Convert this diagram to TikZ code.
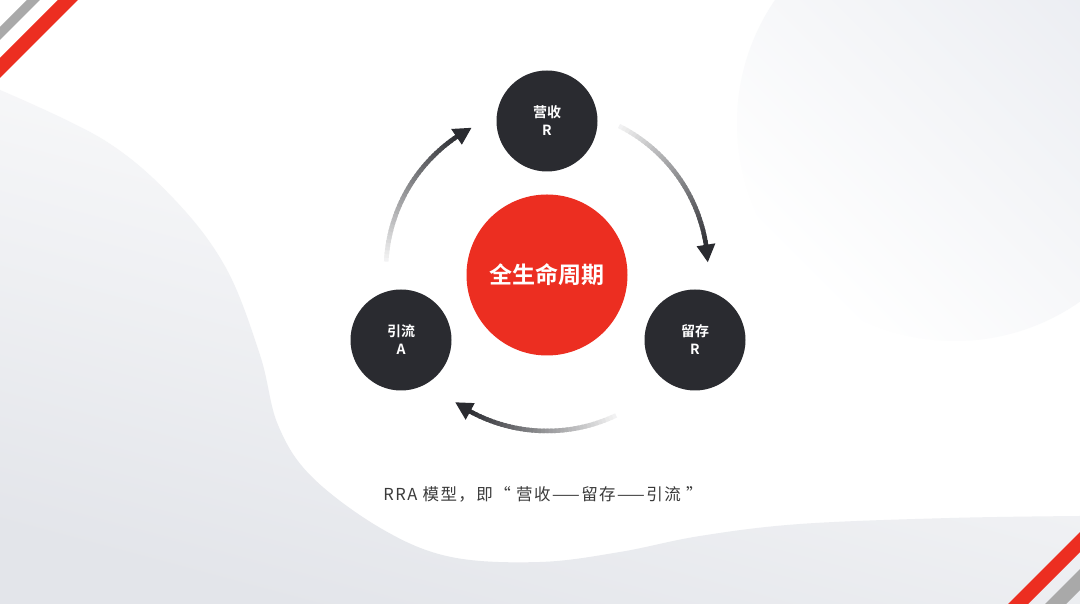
\documentclass[tikz,border=0pt]{standalone}
\usepackage{fontspec}
\newfontfamily\cjk{Noto Sans CJK SC}[BoldFont={Noto Sans CJK SC Bold}]
\newfontfamily\cjkcap{Noto Sans CJK SC}[LetterSpace=9]
\usetikzlibrary{calc}
\definecolor{redc}{HTML}{EC2E21}
\definecolor{darkc}{HTML}{2A2B30}
\definecolor{stripegray}{HTML}{A9A9A9}
\definecolor{bgdark}{HTML}{E3E5EA}
\definecolor{bgmid}{HTML}{F4F5F7}
\definecolor{bgcirc}{HTML}{EAECF1}
\definecolor{capc}{HTML}{3A3A3A}
\newcommand\gradarc[2]{%
  \foreach \i in {0,...,39}{%
    \pgfmathsetmacro\ga{#1+((#2+5)-#1)*\i/40}%
    \pgfmathsetmacro\gb{#1+((#2+5)-#1)*min(\i+1.6,40)/40}%
    \pgfmathtruncatemacro\gp{6+94*\i/39}%
    \draw[arcseg, draw=darkc!\gp!white] ($(O)+(\ga:161)$) arc[start angle=\ga, end angle=\gb, radius=161];
  }%
  \fill[darkc] ($(O)+(#2:161)$) -- ($(O)+({#2+6.2}:170.5)$) -- ($(O)+({#2+6.2}:151.5)$) -- cycle;
}
\begin{document}
\begin{tikzpicture}[x=1pt,y=1pt,
  darknode/.style={circle, fill=darkc, minimum size=101pt, inner sep=0pt, text=white, align=center,
     font=\cjk\bfseries\fontsize{14}{18}\selectfont},
  rednode/.style={circle, fill=redc, minimum size=161pt, inner sep=0pt, text=white,
     font=\cjk\bfseries\fontsize{23}{26}\selectfont},
  arcseg/.style={line width=4.5pt},
  captext/.style={text=capc, font=\cjkcap\fontsize{16.5}{20}\selectfont}]
\useasboundingbox (0,0) rectangle (1080,604);
\clip (0,0) rectangle (1080,604);
\fill[white] (0,0) rectangle (1080,604);
% background shapes
\shade[top color=white, middle color=bgmid, bottom color=bgdark, shading angle=-15]
  plot[smooth, tension=0.6] coordinates {(0,514) (104,464) (174,405) (226,336) (260,249) (278,179) (312,127) (382,75) (451,47) (540,42) (620,52) (700,68) (800,80) (950,86) (1080,88)}
  -- (1080,0) -- (0,0) -- cycle;
\shade[top color=bgcirc, bottom color=white, shading angle=-45] (955,481) circle[radius=218];
% corner stripes
\fill[stripegray] (0,577) -- (27,604) -- (40,604) -- (0,564) -- cycle;
\fill[redc] (0,546) -- (58,604) -- (78,604) -- (0,526) -- cycle;
\fill[redc] (1080,72) -- (1008,0) -- (1028,0) -- (1080,52) -- cycle;
\fill[stripegray] (1080,35) -- (1045,0) -- (1066,0) -- (1080,14) -- cycle;
% nodes
\coordinate (O) at (547,334);
\node[rednode] (core) at (547,329) {全生命周期};
\node[darknode] (rev) at (547,483) {营收\\R};
\node[darknode] (ret) at (695,264) {留存\\R};
\node[darknode] (acq) at (401,264) {引流\\A};
% gradient arrows
\gradarc{177}{118}
\gradarc{63.4}{2.8}
\gradarc{-64.6}{-124.7}
% caption
\node[captext] (cap) at (543,110) {RRA 模型，即“ 营收——留存——引流 ”};
\end{tikzpicture}
\end{document}
